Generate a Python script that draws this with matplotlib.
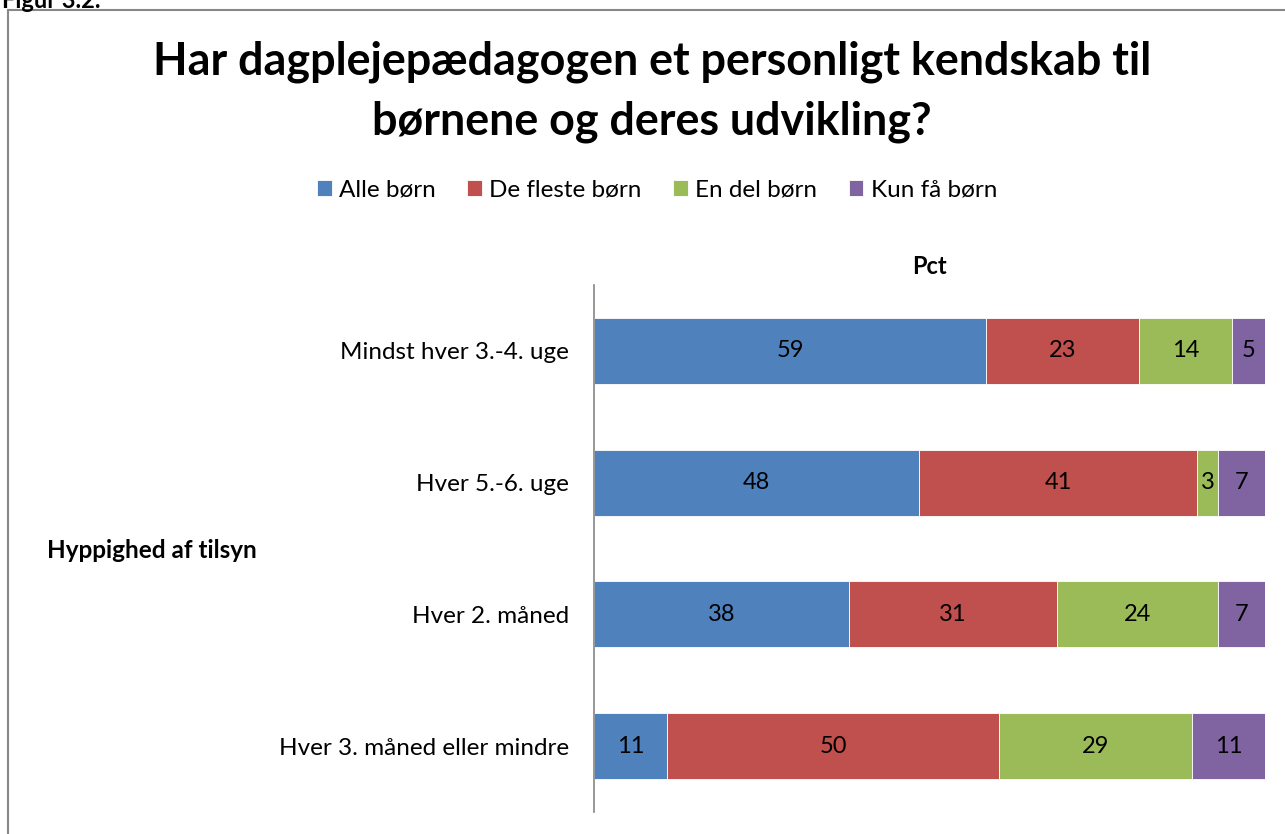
import numpy as np
import matplotlib.pyplot as plt
from matplotlib.patches import Rectangle

plt.rcParams['font.family'] = ['Lato', 'DejaVu Sans']

# data
categories = ['Mindst hver 3.-4. uge', 'Hver 5.-6. uge', 'Hver 2. måned', 'Hver 3. måned eller mindre']
series_names = ['Alle børn', 'De fleste børn', 'En del børn', 'Kun få børn']
alle = [59, 48, 38, 11]
fleste = [23, 41, 31, 50]
en_del = [14, 3, 24, 29]
kun_faa = [5, 7, 7, 11]
colors = ['#4F81BD', '#C0504D', '#9BBB59', '#8064A2']

values = np.array([alle, fleste, en_del, kun_faa], dtype=float)
shares = values / values.sum(axis=0) * 100  # 100% stacked

fig = plt.figure(figsize=(12.85, 8.34), dpi=100)
ax = fig.add_axes([594/1285, 1-812/834, 671/1285, 527/834])

y = np.arange(len(categories))
left = np.zeros(len(categories))
for i in range(len(series_names)):
    bars = ax.barh(y, shares[i], left=left, height=0.5, color=colors[i],
                   edgecolor='white', linewidth=0.6, label=series_names[i])
    for j, b in enumerate(bars):
        ax.text(left[j] + shares[i][j]/2, y[j], '%d' % values[i][j],
                ha='center', va='center', fontsize=17)
    left += shares[i]

ax.set_xlim(0, 100)
ax.set_ylim(3.5, -0.5)
ax.set_yticks(y)
ax.set_yticklabels(categories, fontsize=17.5)
ax.tick_params(axis='y', length=0, pad=18)
ax.set_xticks([])
for s in ['top', 'right', 'bottom']:
    ax.spines[s].set_visible(False)
ax.spines['left'].set_color('#868686')
ax.spines['left'].set_linewidth(1.2)

# titles and labels
fig.text(652/1285, 1-62/834, 'Har dagplejepædagogen et personligt kendskab til',
         ha='center', va='center', fontsize=32.3, fontweight='bold')
fig.text(652/1285, 1-122/834, 'børnene og deres udvikling?',
         ha='center', va='center', fontsize=32.3, fontweight='bold')
fig.text(929/1285, 1-267/834, 'Pct', ha='center', va='center', fontsize=17, fontweight='bold')
fig.text(47/1285, 1-551/834, 'Hyppighed af tilsyn', ha='left', va='center',
         fontsize=17.5, fontweight='bold')
fig.text(2/1285, 1-1/834, 'Figur 3.2.', ha='left', va='center', fontsize=17, fontweight='bold')

fig.legend(loc='center', bbox_to_anchor=(657/1285, 1-190/834), ncol=4, frameon=False,
           fontsize=17.5, handlelength=0.6, handleheight=0.6, handletextpad=0.3,
           columnspacing=1.3)

fig.patches.append(Rectangle((8/1285, -0.01), 1.0, 1-10/834+0.01,
                             transform=fig.transFigure, fill=False,
                             edgecolor='#888888', linewidth=1.5))

plt.savefig('out.png', dpi=100)
